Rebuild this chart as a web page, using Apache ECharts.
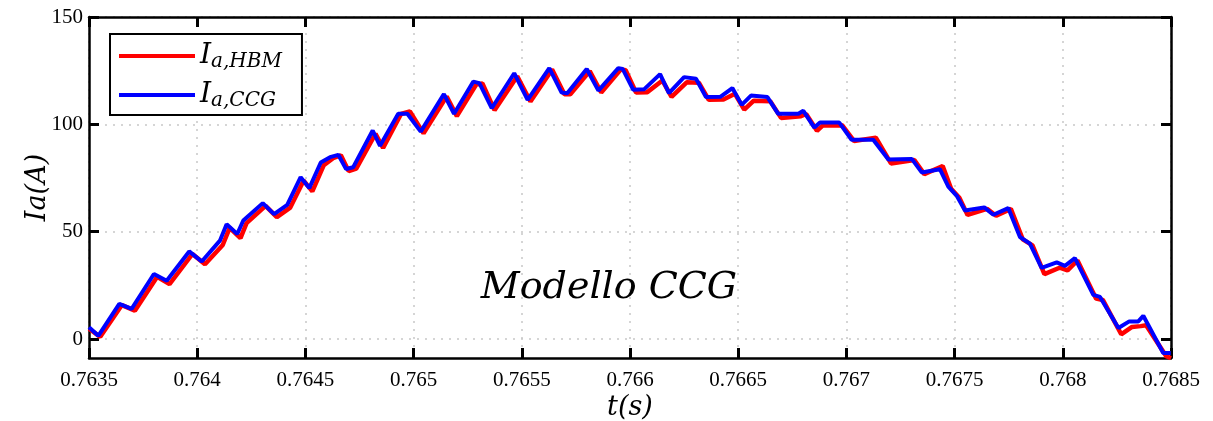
<!DOCTYPE html>
<html>
<head>
<meta charset="utf-8">
<script src="https://cdn.jsdelivr.net/npm/echarts@6/dist/echarts.min.js"></script>
<style>
html,body{margin:0;padding:0;background:#fff;}
#c{width:1213px;height:421px;}
</style>
</head>
<body>
<div id="c"></div>
<script>
// time samples (s) and current (A)
const tCCG = [0.763500,0.763543,0.763640,0.763697,0.763800,0.763859,0.763963,0.764021,0.764105,0.764136,
0.764185,0.764213,0.764303,0.764355,0.764416,0.764478,0.764518,0.764571,0.764614,0.764652,
0.764688,0.764721,0.764811,0.764845,0.764929,0.764971,0.765033,0.765140,0.765187,0.765276,
0.765304,0.765361,0.765465,0.765527,0.765627,0.765684,0.765710,0.765800,0.765854,0.765946,
0.765966,0.766015,0.766066,0.766139,0.766180,0.766250,0.766305,0.766351,0.766419,0.766473,
0.766516,0.766559,0.766635,0.766685,0.766778,0.766801,0.766852,0.766878,0.766967,0.767024,
0.767124,0.767194,0.767302,0.767348,0.767432,0.767471,0.767510,0.767548,0.767637,0.767679,
0.767748,0.767802,0.767848,0.767902,0.767972,0.768010,0.768056,0.768141,0.768172,0.768257,
0.768307,0.768349,0.768372,0.768464,0.768499];
const iaCCG = [5.5,1.5,16.4,14.0,30.3,27.1,40.8,36.1,45.8,53.5,
48.9,55.2,63.3,58.2,62.5,75.4,70.3,82.2,84.7,85.8,
79.2,80.0,97.1,90.0,104.9,104.9,96.6,114.1,104.9,119.9,
119.2,107.5,123.8,111.4,126.2,114.8,114.5,125.8,115.7,126.2,
125.8,116.1,116.4,123.4,114.5,122.0,121.2,112.7,112.9,116.9,
109.1,113.4,112.7,104.9,104.9,106.3,98.5,100.8,100.8,92.8,
92.8,83.6,83.9,77.6,79.1,71.0,66.7,59.9,61.3,57.9,
61.0,47.5,44.4,33.1,35.7,34.1,37.7,20.6,19.6,5.1,
8.2,8.2,10.8,-6.5,-6.5];

const tHBM = [0.763500,0.763552,0.763652,0.763712,0.763815,0.763872,0.763978,0.764036,0.764118,0.764150,
0.764200,0.764228,0.764316,0.764368,0.764430,0.764492,0.764532,0.764585,0.764628,0.764664,
0.764700,0.764735,0.764824,0.764859,0.764942,0.764983,0.765046,0.765153,0.765200,0.765290,
0.765318,0.765374,0.765479,0.765540,0.765640,0.765697,0.765724,0.765814,0.765867,0.765958,
0.765980,0.766028,0.766080,0.766150,0.766192,0.766262,0.766318,0.766364,0.766432,0.766485,
0.766528,0.766572,0.766648,0.766698,0.766790,0.766814,0.766864,0.766890,0.766980,0.767036,
0.767136,0.767206,0.767314,0.767360,0.767445,0.767484,0.767522,0.767560,0.767650,0.767692,
0.767760,0.767815,0.767860,0.767915,0.767985,0.768022,0.768068,0.768154,0.768185,0.768270,
0.768320,0.768360,0.768385,0.768478,0.768500];
const iaHBM = [4.8,1.0,15.8,13.2,29.0,25.6,39.6,34.8,43.8,51.8,
47.0,54.0,62.0,56.8,61.2,73.8,68.8,81.0,84.2,85.6,
78.2,79.4,95.6,89.0,104.8,106.0,95.8,113.0,103.8,118.6,
119.0,106.6,122.4,110.6,125.6,114.0,114.0,124.8,114.8,125.6,
125.2,114.8,115.0,120.4,112.8,119.6,119.4,111.4,111.6,114.2,
106.8,111.0,110.8,103.0,103.8,104.8,97.0,99.4,99.6,92.2,
93.8,81.8,83.4,76.8,80.6,70.0,65.8,57.8,60.6,57.4,
60.6,46.4,43.6,30.2,33.2,32.0,36.6,18.8,18.2,2.2,
5.6,6.0,6.4,-8.0,-9.0];

const yTicks = [0, 50, 100, 150];
const xMin = 0.7635, xMax = 0.7685, xStep = 0.0005;
const yMin = -8.85, yMax = 150;

const zip = (a, b) => a.map((v, i) => [v, b[i]]);

const serif = 'Liberation Serif';
const nameFont = {fontFamily: 'DejaVu Serif', fontStyle: 'italic', fontSize: 27, color: '#000'};
const chart = echarts.init(document.getElementById('c'));

const xBase = {
  type: 'value', min: xMin, max: xMax, interval: xStep,
  axisLine: {onZero: false, lineStyle: {color: '#000', width: 2.5}},
  axisTick: {inside: true, length: 10, lineStyle: {color: '#000', width: 3}},
};
const yBase = {
  type: 'value', min: yMin, max: yMax,
  axisLine: {show: true, onZero: false, lineStyle: {color: '#000', width: 2.5}},
  axisTick: {show: true, inside: true, length: 10, customValues: yTicks, lineStyle: {color: '#000', width: 3}},
};
const gridLine = {show: true, lineStyle: {color: '#c8c8c8', width: 1.5, type: [2, 6]}};

chart.setOption({
  animation: false,
  backgroundColor: '#fff',
  grid: {left: 89, right: 42, top: 17, bottom: 63, outerBoundsMode: 'none', containLabel: false},
  legend: {
    orient: 'vertical', left: 110, top: 34,
    icon: 'rect', itemWidth: 76, itemHeight: 4, itemGap: 7,
    padding: [6, 20, 4, 9],
    backgroundColor: '#fff', borderColor: '#000', borderWidth: 2, borderRadius: 0,
    data: ['HBM', 'CCG'],
    formatter: n => '{i|I}{s|a,' + n + '}',
    textStyle: {
      rich: {
        i: {fontFamily: 'DejaVu Serif', fontStyle: 'italic', fontSize: 28, lineHeight: 28, color: '#000'},
        s: {fontFamily: 'DejaVu Serif', fontStyle: 'italic', fontSize: 20, lineHeight: 16, color: '#000', padding: [12, 0, 0, 0]}
      }
    }
  },
  xAxis: [
    Object.assign({}, xBase, {
      position: 'bottom',
      name: 't(s)', nameLocation: 'middle', nameGap: 36, nameMoveOverlap: false,
      nameTextStyle: nameFont,
      axisLabel: {margin: 12, fontFamily: serif, fontSize: 21, color: '#000',
        formatter: v => String(+v.toFixed(4))},
      splitLine: gridLine
    }),
    Object.assign({}, xBase, {position: 'top', axisLabel: {show: false}, splitLine: {show: false}})
  ],
  yAxis: [
    Object.assign({}, yBase, {
      position: 'left',
      name: 'Ia(A)', nameLocation: 'middle', nameGap: 38, nameRotate: 90, nameMoveOverlap: false,
      nameTextStyle: nameFont,
      axisLabel: {margin: 6, fontFamily: serif, fontSize: 21, color: '#000', customValues: yTicks},
      splitLine: gridLine
    }),
    Object.assign({}, yBase, {position: 'right', axisLabel: {show: false}, splitLine: {show: false}})
  ],
  graphic: [{
    type: 'text', x: 609, y: 288, z: 10,
    style: {text: 'Modello CCG', align: 'center', verticalAlign: 'middle',
      font: 'italic 38px "DejaVu Serif"', fill: '#000'}
  }],
  series: [
    {name: 'HBM', type: 'line', data: zip(tHBM, iaHBM), symbol: 'none',
      lineStyle: {color: '#ff0000', width: 4.5}, itemStyle: {color: '#ff0000'}, z: 2},
    {name: 'CCG', type: 'line', data: zip(tCCG, iaCCG), symbol: 'none',
      lineStyle: {color: '#0000ff', width: 4}, itemStyle: {color: '#0000ff'}, z: 3}
  ]
});
</script>
</body>
</html>
